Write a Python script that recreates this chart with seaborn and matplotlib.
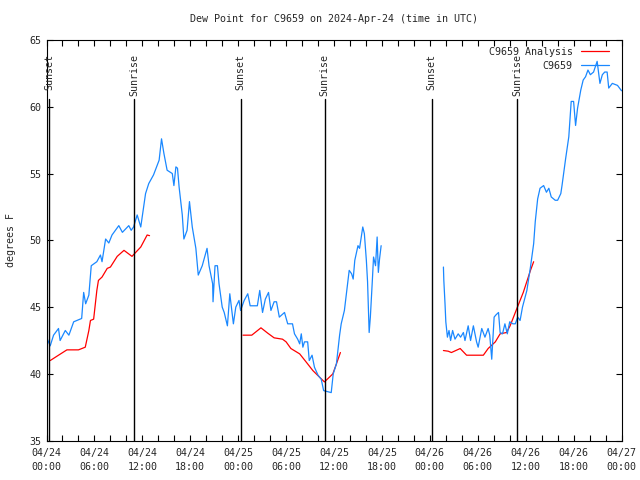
import matplotlib
matplotlib.use("Agg")
import matplotlib.pyplot as plt
import matplotlib.dates as mdates
import pandas as pd
import seaborn as sns

# Giá trị (giờ kể từ 04/24 00:00 UTC, độ F)
blue1_h = [0.0, 0.46, 0.88, 1.5, 1.7, 2.35, 2.8, 3.4, 3.8, 4.4, 4.65, 4.9, 5.3, 5.6, 6.3, 6.75, 6.95,
           7.4, 7.8, 8.2, 9.05, 9.5, 10.3, 10.6, 10.9, 11.35, 11.8, 12.4, 12.8, 13.4, 14.1, 14.4, 14.7,
           15.1, 15.75, 15.95, 16.2, 16.4, 16.6, 17.0, 17.2, 17.6, 17.9, 18.25, 18.7, 19.0, 19.5, 20.1,
           20.35, 20.8, 20.85, 21.1, 21.4, 21.6, 22.0, 22.25, 22.65, 22.95, 23.4, 23.7, 24.1, 24.3,
           24.75, 25.2, 25.5, 26.4, 26.7, 27.05, 27.4, 27.8, 28.1, 28.5, 28.8, 29.15, 29.8, 30.2, 30.8,
           31.05, 31.45, 31.7, 31.9, 32.1, 32.3, 32.7, 32.9, 33.25, 33.55, 34.0, 34.4, 34.7, 35.65,
           35.9, 36.3, 36.7, 36.9, 37.3, 37.5, 37.9, 38.2, 38.4, 38.6, 39.0, 39.2, 39.6, 39.8, 40.05,
           40.2, 40.4, 40.55, 40.8, 40.95, 41.2, 41.4, 41.55, 41.7, 41.9]
blue1_v = [42.75, 42.1, 42.9, 43.4, 42.5, 43.25, 42.9, 43.9, 44.0, 44.15, 46.1, 45.25, 45.9, 48.1, 48.4,
           48.9, 48.4, 50.1, 49.8, 50.4, 51.1, 50.6, 51.1, 50.75, 51.0, 51.9, 51.0, 53.5, 54.25, 54.9,
           56.0, 57.6, 56.5, 55.25, 55.0, 54.1, 55.5, 55.4, 54.0, 51.9, 50.1, 50.75, 52.9, 51.0, 49.4,
           47.4, 48.1, 49.4, 48.1, 46.75, 45.4, 48.1, 48.1, 46.75, 45.0, 44.6, 43.6, 46.0, 43.75, 45.0,
           45.5, 44.75, 45.5, 46.0, 45.1, 45.1, 46.25, 44.6, 45.6, 46.1, 44.75, 45.4, 45.4, 44.25, 44.6,
           43.75, 43.75, 43.0, 42.6, 42.25, 43.0, 42.0, 42.4, 42.4, 41.0, 41.4, 40.5, 39.9, 39.6, 38.75,
           38.6, 40.0, 40.75, 42.9, 43.75, 44.75, 45.75, 47.75, 47.5, 47.1, 48.5, 49.6, 49.4, 51.0,
           50.5, 48.5, 46.9, 43.1, 44.25, 47.0, 48.75, 48.1, 50.25, 47.6, 48.6, 49.6]
blue2_h = [49.7, 49.75, 49.9, 50.0, 50.2, 50.4, 50.6, 50.85, 51.15, 51.55, 51.85, 52.2, 52.4, 52.8,
           53.1, 53.45, 53.85, 54.05, 54.5, 54.9, 55.3, 55.5, 55.75, 56.05, 56.25, 56.6, 56.8, 57.1,
           57.4, 57.7, 58.0, 58.4, 58.7, 59.0, 59.3, 59.6, 60.15, 60.6, 61.0, 61.2, 61.5, 61.8, 62.25,
           62.6, 62.9, 63.2, 63.7, 64.0, 64.4, 64.55, 65.0, 65.4, 65.7, 66.0, 66.25, 66.5, 66.9, 67.2,
           67.5, 67.8, 68.1, 68.5, 68.95, 69.3, 69.6, 69.9, 70.2, 70.4, 70.85, 71.5, 72.0]
blue2_v = [48.0, 47.0, 45.25, 43.9, 42.75, 43.25, 42.5, 43.25, 42.6, 43.0, 42.75, 43.1, 42.5, 43.6,
           42.5, 43.6, 42.4, 42.0, 43.4, 42.75, 43.4, 42.9, 41.1, 44.25, 44.4, 44.6, 43.1, 43.0, 43.75,
           43.0, 43.9, 43.75, 43.75, 44.25, 44.0, 45.0, 46.25, 48.0, 49.75, 51.4, 53.1, 53.9, 54.1,
           53.6, 53.9, 53.25, 53.0, 53.0, 53.5, 54.1, 56.1, 57.75, 60.4, 60.4, 58.6, 59.9, 61.25, 62.0,
           62.25, 62.75, 62.4, 62.6, 63.4, 61.75, 62.4, 62.6, 62.6, 61.4, 61.75, 61.6, 61.2]

red1_h = [0.46, 1.5, 2.55, 4.0, 4.85, 5.3, 5.5, 5.9, 6.3, 6.5, 6.95, 7.6, 8.0, 8.85, 9.7, 10.7, 11.8,
          12.6, 12.9]
red1_v = [41.0, 41.4, 41.8, 41.8, 42.0, 43.25, 44.0, 44.1, 46.25, 47.0, 47.25, 47.9, 48.0, 48.8, 49.25,
          48.8, 49.5, 50.4, 50.35]
red2_h = [24.6, 25.7, 26.85, 27.7, 28.5, 29.55, 30.0, 30.6, 31.7, 32.5, 33.35, 34.2, 34.8, 35.85, 36.3,
          36.8]
red2_v = [42.9, 42.9, 43.45, 43.05, 42.7, 42.6, 42.4, 41.9, 41.5, 40.9, 40.25, 39.75, 39.4, 40.0, 40.75,
          41.6]
red3_h = [49.7, 50.3, 50.7, 51.8, 52.6, 53.45, 54.7, 55.3, 56.2, 56.8, 57.6, 58.05, 58.9, 59.7, 60.6,
          61.0]
red3_v = [41.75, 41.7, 41.6, 41.9, 41.4, 41.4, 41.4, 41.9, 42.4, 43.0, 43.1, 43.6, 44.9, 46.1, 47.75,
          48.4]

sun_names = ["Sunset", "Sunrise", "Sunset", "Sunrise", "Sunset", "Sunrise"]
sun_hours = [0.35, 11.0, 24.3, 34.85, 48.25, 58.9]

start = pd.Timestamp("2024-04-24 00:00")

# Gom dữ liệu thành bảng, mỗi đoạn liền là một "seg"
parts = [
    ("C9659 Analysis", "r1", red1_h, red1_v),
    ("C9659 Analysis", "r2", red2_h, red2_v),
    ("C9659 Analysis", "r3", red3_h, red3_v),
    ("C9659", "b1", blue1_h, blue1_v),
    ("C9659", "b2", blue2_h, blue2_v),
]
frames = []
for series, seg, hh, vv in parts:
    frames.append(pd.DataFrame({"time": start + pd.to_timedelta(hh, unit="h"),
                                "val": vv, "series": series, "seg": seg}))
df = pd.concat(frames, ignore_index=True)

sns.set_style("ticks")
plt.rcParams["font.family"] = ["DejaVu Sans Mono"]
plt.rcParams["font.size"] = 7.2

fig = plt.figure(figsize=(6.4, 4.8), dpi=100)
ax = fig.add_axes([0.0727, 0.0819, 0.8984, 0.8348])

blue = "#1a88ff"
sns.lineplot(data=df, x="time", y="val", hue="series", units="seg", estimator=None,
             palette={"C9659 Analysis": "red", "C9659": blue},
             hue_order=["C9659 Analysis", "C9659"], lw=0.9, ax=ax)

# Đường mặt trời mọc / lặn
for name, h in zip(sun_names, sun_hours):
    t = start + pd.Timedelta(hours=h)
    ax.axvline(t, ymin=0, ymax=(60.6 - 35) / 30, color="black", lw=1)
    ax.text(t, 63.95, name, rotation=90, ha="center", va="top", fontsize=7.2)

ax.set_xlim(start, start + pd.Timedelta(days=3))
ax.set_ylim(35, 65)
ax.set_yticks(range(35, 66, 5))
ax.xaxis.set_major_locator(mdates.HourLocator(byhour=[0, 6, 12, 18]))
ax.xaxis.set_minor_locator(mdates.HourLocator(byhour=range(0, 24, 2)))
ax.xaxis.set_major_formatter(mdates.DateFormatter("%m/%d\n%H:%M"))
ax.tick_params(which="both", direction="in", top=True, right=True, length=4, width=0.8,
               labelsize=7.2, color="black")
ax.tick_params(axis="x", pad=5)
for lab in ax.get_xticklabels():
    lab.set_linespacing(1.6)
for s in ax.spines.values():
    s.set_color("black")
    s.set_linewidth(0.8)

ax.set_xlabel("")
ax.set_ylabel("degrees F", fontsize=7.2, labelpad=10)
ax.set_title("Dew Point for C9659 on 2024-Apr-24 (time in UTC)", fontsize=7.2, pad=13)

handles, labels = ax.get_legend_handles_labels()
ax.legend(handles, labels, loc="upper right", bbox_to_anchor=(0.99, 1.0), frameon=False,
          markerfirst=False, fontsize=7.2, handlelength=2.8, borderaxespad=0.3,
          labelspacing=0.4, handletextpad=0.8)

fig.savefig("out.png", dpi=100)
